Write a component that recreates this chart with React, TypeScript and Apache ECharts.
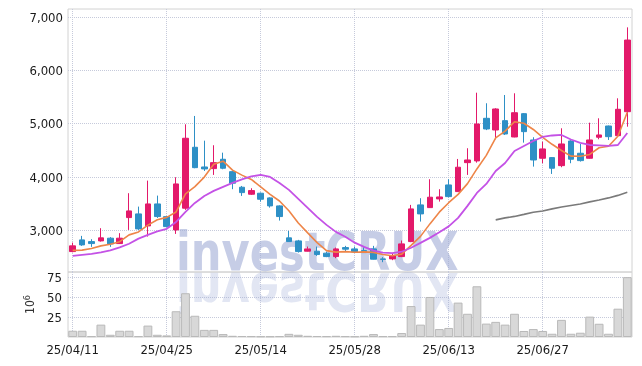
import React, { useEffect, useRef } from 'react';
import * as echarts from 'echarts';

const dates = [
  '25/04/11', '25/04/14', '25/04/15', '25/04/16', '25/04/17', '25/04/18', '25/04/21', '25/04/22', '25/04/23', '25/04/24',
  '25/04/25', '25/04/28', '25/04/29', '25/04/30', '25/05/02', '25/05/07', '25/05/08', '25/05/09', '25/05/12', '25/05/13',
  '25/05/14', '25/05/15', '25/05/16', '25/05/19', '25/05/20', '25/05/21', '25/05/22', '25/05/23', '25/05/26', '25/05/27',
  '25/05/28', '25/05/29', '25/05/30', '25/06/02', '25/06/04', '25/06/05', '25/06/09', '25/06/10', '25/06/11', '25/06/12',
  '25/06/13', '25/06/16', '25/06/17', '25/06/18', '25/06/19', '25/06/20', '25/06/23', '25/06/24', '25/06/25', '25/06/26',
  '25/06/27', '25/06/30', '25/07/01', '25/07/02', '25/07/03', '25/07/04', '25/07/07', '25/07/08', '25/07/09', '25/07/10',
];

const openP = [
  2603, 2822, 2790, 2803, 2854, 2753, 3240, 3309, 3084, 3496,
  3258, 3009, 3416, 4558, 4189, 4158, 4333, 4101, 3809, 3678,
  3697, 3609, 3459, 2860, 2803, 2610, 2610, 2573, 2509, 2678,
  2653, 2622, 2653, 2466, 2466, 2509, 2790, 3478, 3427, 3590,
  3852, 3727, 4270, 4302, 5101, 4882, 5057, 4751, 5188, 4695,
  4352, 4364, 4214, 4676, 4446, 4352, 4746, 4957, 4776, 5225,
];
const closeP = [
  2710, 2728, 2753, 2860, 2747, 2854, 3365, 3028, 3496, 3259,
  3071, 3871, 4727, 4176, 4152, 4270, 4165, 3884, 3708, 3746,
  3584, 3459, 3259, 2790, 2603, 2653, 2547, 2509, 2653, 2648,
  2597, 2584, 2460, 2455, 2528, 2747, 3403, 3309, 3622, 3627,
  3633, 4184, 4320, 4995, 4901, 5276, 4807, 5206, 4851, 4320,
  4527, 4165, 4620, 4334, 4308, 4695, 4789, 4757, 5270, 6568,
];
const lowP = [
  2590, 2710, 2691, 2790, 2691, 2747, 3009, 3009, 2884, 3234,
  3060, 2934, 3384, 4165, 4114, 4040, 4146, 3772, 3646, 3665,
  3539, 3427, 3184, 2785, 2584, 2605, 2522, 2498, 2479, 2603,
  2590, 2578, 2455, 2404, 2442, 2500, 2780, 3165, 3420, 3540,
  3620, 3720, 4040, 4270, 4880, 4708, 4790, 4745, 4645, 4195,
  4259, 4058, 4184, 4259, 4290, 4345, 4708, 4695, 4770, 4944,
];
const highP = [
  2771, 2897, 2835, 3041, 2873, 2948, 3697, 3446, 3933, 3652,
  3270, 3996, 4989, 5145, 4682, 4596, 4457, 4120, 3833, 3790,
  3710, 3620, 3470, 2991, 2822, 2697, 2697, 2603, 2678, 2710,
  2697, 2685, 2710, 2498, 2560, 2810, 3478, 3603, 3959, 3772,
  3959, 4339, 4540, 5581, 5383, 5290, 5538, 5570, 5200, 4746,
  4663, 4375, 4914, 4690, 4620, 5019, 5101, 4965, 5476, 6806,
];

const ma5 = [
  2625, 2630, 2660, 2710, 2740, 2788, 2916, 2971, 3098, 3200,
  3244, 3345, 3685, 3821, 3999, 4239, 4298, 4129, 4036, 3955,
  3817, 3676, 3551, 3368, 3139, 2953, 2770, 2620, 2593, 2602,
  2591, 2598, 2588, 2549, 2525, 2555, 2719, 2888, 3122, 3342,
  3519, 3675, 3877, 4152, 4407, 4735, 4860, 5037, 5008, 4892,
  4742, 4614, 4497, 4393, 4391, 4424, 4549, 4577, 4764, 5216,
];
const ma20 = [
  2522, 2541, 2560, 2588, 2625, 2680, 2750, 2845, 2916, 2980,
  3030, 3159, 3347, 3515, 3646, 3740, 3815, 3890, 3955, 4011,
  4040, 4002, 3890, 3759, 3590, 3421, 3253, 3103, 2972, 2880,
  2770, 2690, 2620, 2584, 2573, 2600, 2675, 2766, 2860, 2966,
  3075, 3234, 3459, 3702, 3871, 4114, 4264, 4489, 4583, 4676,
  4751, 4779, 4789, 4704, 4639, 4601, 4592, 4583, 4601, 4826,
];
const longMaStart = 45;
const longMa = [3197, 3234, 3262, 3300, 3341, 3365, 3403, 3440, 3468, 3496, 3534, 3571, 3609, 3656, 3715];

const volume = [
  7.9, 7.9, 1.0, 15.6, 2.8, 7.9, 7.9, 1.0, 14.4, 2.8,
  2.0, 32.5, 55.2, 26.8, 9.0, 9.0, 3.7, 1.5, 1.2, 1.0,
  0.8, 0.8, 1.0, 4.0, 2.8, 1.5, 1.2, 1.0, 1.5, 1.0,
  0.8, 1.5, 3.7, 1.0, 1.0, 5.0, 39.0, 15.6, 50.5, 10.0,
  11.4, 43.4, 29.3, 64.0, 16.9, 19.1, 15.6, 29.3, 7.6, 10.0,
  7.6, 4.1, 21.6, 4.1, 5.4, 25.7, 16.7, 4.1, 35.7, 75.5,
];

const priceTicks = [3000, 4000, 5000, 6000, 7000];
const volumeTicks = [25, 50, 75];

const FONT = "'DejaVu Sans Condensed', 'DejaVu Sans', sans-serif";
const RED = '#e3196a';
const BLUE = '#2e90c6';

const dotted = { show: true, lineStyle: { color: '#c6cadb', type: 'dotted' as const, width: 1 } };
const labelStyle = { color: '#1a1a1a', fontSize: 13, fontFamily: FONT };

export default function App() {
  const ref = useRef<HTMLDivElement>(null);
  useEffect(() => {
    const chart = echarts.init(ref.current!, null, { renderer: 'svg' });
    const candles = dates.map((_, i) => [openP[i], closeP[i], lowP[i], highP[i]]);
    const longData = dates.map((_, i) => (i >= longMaStart ? longMa[i - longMaStart] : null));
    chart.setOption({
      animation: false,
      grid: [
        { left: 68, right: 10, top: 9, height: 263, show: true, borderColor: '#d2d2d2', borderWidth: 1 },
        { left: 68, right: 10, top: 272, height: 65, show: true, borderColor: '#d2d2d2', borderWidth: 1 },
      ],
      xAxis: [
        {
          type: 'category', gridIndex: 0, data: dates, boundaryGap: true,
          axisLine: { show: false }, axisTick: { show: false }, axisLabel: { show: false },
          splitLine: { ...dotted, interval: 9, alignWithLabel: true },
        },
        {
          type: 'category', gridIndex: 1, data: dates, boundaryGap: true,
          axisLine: { show: false }, axisTick: { show: false },
          axisLabel: { ...labelStyle, interval: 9, margin: 6 },
          splitLine: { ...dotted, interval: 9, alignWithLabel: true },
        },
      ],
      yAxis: [
        {
          type: 'value', gridIndex: 0, min: 2220, max: 7150, scale: true,
          axisLine: { show: false },
          axisTick: { show: false, customValues: priceTicks },
          axisLabel: {
            ...labelStyle, margin: 5, customValues: priceTicks,
            formatter: (v: number) => v.toLocaleString('en-US'),
          },
          splitLine: dotted,
        },
        {
          type: 'value', gridIndex: 1, min: 0, max: 82,
          axisLine: { show: false },
          axisTick: { show: false, customValues: volumeTicks },
          axisLabel: { ...labelStyle, margin: 6, customValues: volumeTicks },
          splitLine: dotted,
          name: '{a|10}{b|6}', nameLocation: 'middle', nameGap: 28, nameRotate: 90,
          nameTextStyle: {
            rich: {
              a: { fontSize: 12, color: '#333', fontFamily: FONT },
              b: { fontSize: 9, color: '#333', fontFamily: FONT, padding: [0, 0, 7, 0] },
            },
          },
        },
      ],
      graphic: [
        {
          type: 'text', x: 176, y: 251.5, scaleX: 0.8, z: 1, silent: true,
          style: {
            text: 'investCRUX', font: 'bold 54px "DejaVu Sans"', fill: 'rgba(160,172,214,0.6)',
            verticalAlign: 'middle',
          },
        },
        {
          type: 'text', x: 176, y: 272, scaleX: 0.8, scaleY: -1, z: 1, silent: true,
          style: {
            text: 'investCRUX', y: -19.5, font: 'bold 54px "DejaVu Sans"', fill: 'rgba(160,172,214,0.3)',
            verticalAlign: 'middle',
          },
        },
      ],
      series: [
        {
          type: 'candlestick', xAxisIndex: 0, yAxisIndex: 0, data: candles, barWidth: 6, z: 3,
          itemStyle: { color: RED, color0: BLUE, borderColor: RED, borderColor0: BLUE, borderWidth: 1 },
        },
        {
          type: 'line', xAxisIndex: 0, yAxisIndex: 0, data: ma5, showSymbol: false, z: 4,
          lineStyle: { color: '#ee8548', width: 1.6 },
        },
        {
          type: 'line', xAxisIndex: 0, yAxisIndex: 0, data: ma20, showSymbol: false, z: 4,
          lineStyle: { color: '#c452e6', width: 1.8 },
        },
        {
          type: 'line', xAxisIndex: 0, yAxisIndex: 0, data: longData, showSymbol: false, z: 4,
          lineStyle: { color: '#7a7a7a', width: 1.6 },
        },
        {
          type: 'bar', xAxisIndex: 1, yAxisIndex: 1, data: volume, barCategoryGap: '6%',
          itemStyle: { color: '#d8d8d8', borderColor: '#b9b9b9', borderWidth: 1 },
        },
      ],
    });
    return () => chart.dispose();
  }, []);
  return <div ref={ref} style={{ position: 'fixed', left: 0, top: 0, width: 642, height: 366 }} />;
}
